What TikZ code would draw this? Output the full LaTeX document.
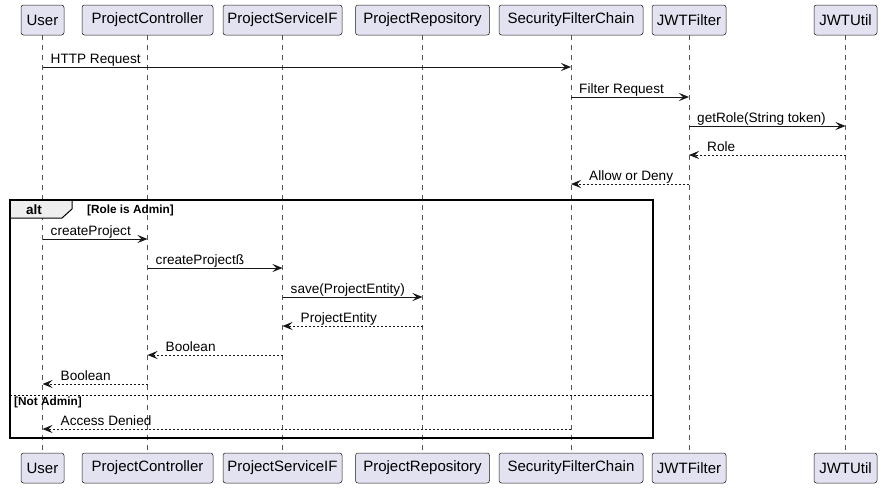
\documentclass[tikz,border=0pt]{standalone}
\usepackage{fontspec}
\setmainfont{Liberation Sans}
\usetikzlibrary{arrows.meta}
\definecolor{partfill}{HTML}{E2E2F0}
\definecolor{partline}{HTML}{181818}
\definecolor{lifeline}{HTML}{555555}
\definecolor{tabfill}{HTML}{EEEEEE}
\tikzset{
  part/.style={draw=partline, fill=partfill, rounded corners=2.5pt, line width=0.5pt,
    minimum height=30pt, inner sep=0pt, font=\fontsize{15}{17}\selectfont},
  life/.style={draw=lifeline, line width=0.5pt, dash pattern=on 5pt off 5pt},
  call/.style={draw=partline, line width=1pt, -{Stealth[length=10pt,width=8pt,inset=4pt]}},
  ret/.style={call, dash pattern=on 2pt off 2pt},
  msglabel/.style={font=\fontsize{13.6}{15}\selectfont, inner sep=0pt},
  guard/.style={font=\bfseries\fontsize{11.8}{13}\selectfont, inner sep=0pt},
}
\newcommand\seqright[4]{%
  \coordinate (#1-#3) at (#1.south |- 0,#3);
  \coordinate (#2-#3) at (#2.south |- 0,#3);
  \draw[call] (#1-#3) -- (#2-#3);
  \node[msglabel, anchor=base west] (lab-#1-#3) at ([shift={(8,-4)}]#1-#3) {#4};}
\newcommand\seqleft[4]{%
  \coordinate (#1-#3) at (#1.south |- 0,#3);
  \coordinate (#2-#3) at (#2.south |- 0,#3);
  \draw[ret] (#1-#3) -- (#2-#3);
  \node[msglabel, anchor=base west] (lab-#1-#3) at ([shift={(18,-4)}]#2-#3) {#4};}
\begin{document}
\begin{tikzpicture}[x=1pt,y=-1pt]
\useasboundingbox (0,0) rectangle (881,488);
% participants top
\node[part, minimum width=43pt]  (u)   at (42.5,20)  {User};
\node[part, minimum width=131pt] (pc)  at (147.5,20) {ProjectController};
\node[part, minimum width=119pt] (ps)  at (282.5,20) {ProjectServiceIF};
\node[part, minimum width=134pt] (pr)  at (422.5,20) {ProjectRepository};
\node[part, minimum width=144pt] (sf)  at (571,20)   {SecurityFilterChain};
\node[part, minimum width=74pt]  (jf)  at (689,20)   {JWTFilter};
\node[part, minimum width=63pt]  (ju)  at (845.5,20) {JWTUtil};
% participants bottom
\node[part, minimum width=43pt]  (ub)  at (42.5,468)  {User};
\node[part, minimum width=131pt] (pcb) at (147.5,468) {ProjectController};
\node[part, minimum width=119pt] (psb) at (282.5,468) {ProjectServiceIF};
\node[part, minimum width=134pt] (prb) at (422.5,468) {ProjectRepository};
\node[part, minimum width=144pt] (sfb) at (571,468)   {SecurityFilterChain};
\node[part, minimum width=74pt]  (jfb) at (689,468)   {JWTFilter};
\node[part, minimum width=63pt]  (jub) at (845.5,468) {JWTUtil};
% lifelines
\foreach \a/\b in {u/ub,pc/pcb,ps/psb,pr/prb,sf/sfb,jf/jfb,ju/jub}
  \draw[life] (\a.south) -- (\b.north);
% messages
\seqright{u}{sf}{67}{HTTP Request}
\seqright{sf}{jf}{97}{Filter Request}
\seqright{jf}{ju}{126}{getRole(String token)}
\seqleft{ju}{jf}{155}{Role}
\seqleft{jf}{sf}{184}{Allow or Deny}
% alt frame
\coordinate (fTL) at (10,200);
\coordinate (fBR) at (653,438);
\draw[fill=tabfill, line width=1pt] (10,200) -- (72,200) -- (72,209) -- (62,218) -- (10,218) -- cycle;
\draw[line width=1.5pt] (fTL) rectangle (fBR);
\node[font=\bfseries\fontsize{13.5}{15}\selectfont, inner sep=0pt, anchor=base] (altlab) at (34,214) {alt};
\node[guard, anchor=base west] (g1) at (87,213) {[Role is Admin]};
\seqright{u}{pc}{239}{createProject}
\seqright{pc}{ps}{268}{createProjectß}
\seqright{ps}{pr}{297}{save(ProjectEntity)}
\seqleft{pr}{ps}{326}{ProjectEntity}
\seqleft{ps}{pc}{355}{Boolean}
\seqleft{pc}{u}{384}{Boolean}
\coordinate (sepL) at (10,395);
\coordinate (sepR) at (653,395);
\draw[line width=0.75pt, dash pattern=on 2pt off 2pt] (sepL) -- (sepR);
\node[guard, anchor=base west] (g2) at (14,405) {[Not Admin]};
\seqleft{sf}{u}{429}{Access Denied}
\end{tikzpicture}
\end{document}
